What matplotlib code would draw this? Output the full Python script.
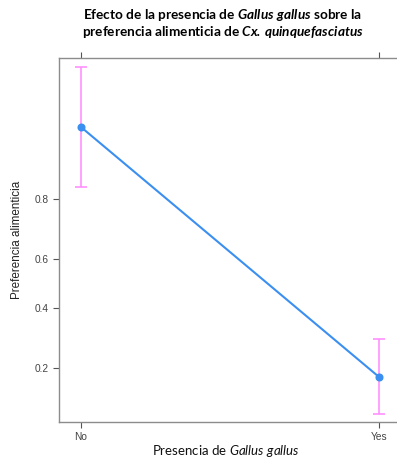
import matplotlib
matplotlib.use("Agg")
import matplotlib.pyplot as plt

# Data (probability scale, logit axis)
categories = ["No", "Yes"]
fit = [0.929, 0.178]
lower = [0.830, 0.106]
upper = [0.972, 0.286]
yticks = [0.2, 0.4, 0.6, 0.8]
ytick_labels = ["0.2", "0.4", "0.6", "0.8"]

plt.rcParams["mathtext.fontset"] = "custom"
plt.rcParams["mathtext.it"] = "Lato:italic"
plt.rcParams["mathtext.bf"] = "Lato:bold"
plt.rcParams["mathtext.bfit"] = "Lato:bold:italic"
plt.rcParams["mathtext.rm"] = "Lato"

fig = plt.figure(figsize=(3.97, 4.61), dpi=100)
ax = fig.add_axes([58.7/397, 1-422/461, 1-58.7/397, (422-57.7)/461])

x = list(range(len(categories)))
line_col = "#3b8ff0"
err_col = "#ff88ff"
yerr = [[f - l for f, l in zip(fit, lower)], [u - f for f, u in zip(fit, upper)]]
ax.errorbar(x, fit, yerr=yerr, fmt="none", ecolor=err_col, elinewidth=1.1,
            capsize=4.5, capthick=1.1, zorder=2)
ax.plot(x, fit, color=line_col, lw=1.5, marker="o", ms=4.8, zorder=3)

ax.set_yscale("logit")
ax.set_ylim(0.0935, 0.976)
ax.set_xlim(-0.0738, 1.061)
ax.set_yticks(yticks)
ax.set_yticklabels(ytick_labels)
ax.yaxis.set_minor_locator(matplotlib.ticker.NullLocator())
ax.set_xticks(x)
ax.set_xticklabels(categories)

spine_col = "#8c8c8c"
for s in ["left", "bottom", "top"]:
    ax.spines[s].set_color(spine_col)
    ax.spines[s].set_linewidth(1.0)
ax.spines["right"].set_visible(False)
ax.tick_params(axis="both", direction="out", length=4.5, width=0.8, color="#555555",
               labelsize=7.3, labelcolor="#444444", pad=3)
ax.tick_params(axis="x", top=True)
for lab in ax.get_xticklabels() + ax.get_yticklabels():
    lab.set_family("Liberation Sans")

fig.text(17/397, 1-240/461, "Preferencia alimenticia", rotation=90, ha="center", va="center",
         fontsize=8.4, family="Liberation Sans", color="#222222")
fig.text(226/397, 1-451/461, r"Presencia de $\mathit{Gallus\ gallus}$", ha="center", va="center",
         fontsize=9.5, family="Lato", color="#111111")
fig.text(223/397, 1-15/461, r"Efecto de la presencia de $\mathbfit{Gallus\ gallus}$ sobre la",
         ha="center", va="center", fontsize=9.8, family="Lato", fontweight="bold")
fig.text(223/397, 1-32/461, r"preferencia alimenticia de $\mathbfit{Cx.}$$\mathbfit{\,quinquefasciatus}$",
         ha="center", va="center", fontsize=9.8, family="Lato", fontweight="bold")

fig.savefig("out.png", dpi=100)
